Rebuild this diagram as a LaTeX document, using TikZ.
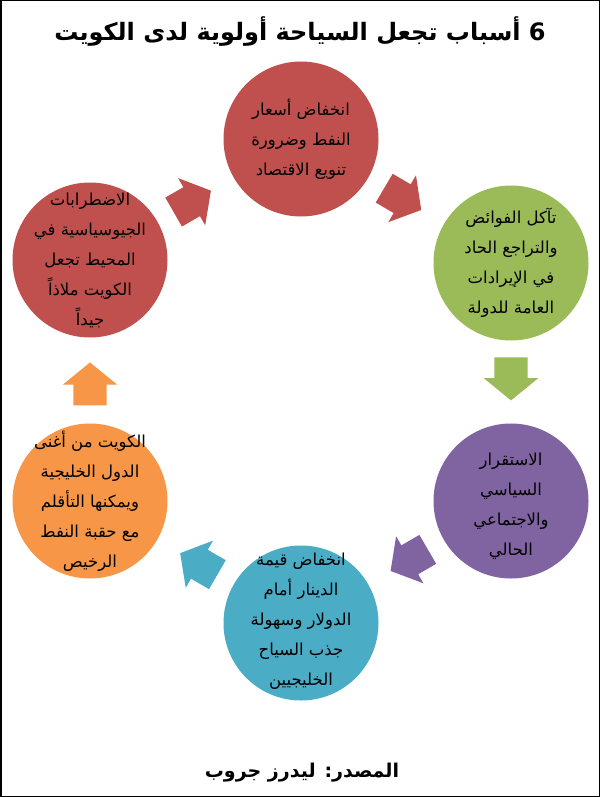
\documentclass[tikz,border=0pt]{standalone}
\usepackage{fontspec}
\usetikzlibrary{shapes.arrows}
\TeXXeTstate=1
\newfontfamily\arabicfont[Script=Arabic]{DejaVu Sans}
\newcommand{\rl}[1]{\beginR #1\endR}
\newcommand{\shaftbox}{\rule{0pt}{33pt}}
\definecolor{cred}{HTML}{C0504D}
\definecolor{cgreen}{HTML}{9BBB59}
\definecolor{cpurple}{HTML}{8064A2}
\definecolor{cteal}{HTML}{4BACC6}
\definecolor{corange}{HTML}{F79646}
\begin{document}
\begin{tikzpicture}[x=1pt,y=-1pt,
  bubble/.style={circle, minimum size=155pt, inner sep=0pt, draw=none},
  btext/.style={font=\arabicfont\fontsize{16.5}{30}\selectfont, align=center, text=black, inner sep=0pt},
  barrow/.style={single arrow, minimum height=43pt, pos=0.38,
    single arrow head extend=10.5pt, single arrow tip angle=101.6,
    inner sep=0pt, sloped, allow upside down, draw=none}]
\useasboundingbox (0,0) rectangle (600,797);
\fill[white] (0,0) rectangle (600,797);
\draw[line width=1.5pt] (0.75,0.75) rectangle (599.25,796.25);

\node[font=\arabicfont\bfseries\fontsize{24}{30}\selectfont] (title) at (300,32)
  {\rl{6 أسباب تجعل السياحة أولوية لدى الكويت}};

\node[bubble, fill=cred]    (top) at (301,139) {};
\node[bubble, fill=cgreen]  (grn) at (511,263) {};
\node[bubble, fill=cpurple] (pur) at (511,501) {};
\node[bubble, fill=cteal]   (tea) at (301,623) {};
\node[bubble, fill=corange] (org) at (90,501) {};
\node[bubble, fill=cred]    (lrd) at (90,260) {};

\node[btext] (topt) at (top) {\rl{انخفاض أسعار}\\\rl{النفط وضرورة}\\\rl{تنويع الاقتصاد}};
\node[btext] (grnt) at (grn) {\rl{تآكل الفوائض}\\\rl{والتراجع الحاد}\\\rl{في الإيرادات}\\\rl{العامة للدولة}};
\node[btext, yshift=-5pt] (purt) at (pur) {\rl{الاستقرار}\\\rl{السياسي}\\\rl{والاجتماعي}\\\rl{الحالي}};
\node[btext, yshift=2pt] (teat) at (tea) {\rl{انخفاض قيمة}\\\rl{الدينار أمام}\\\rl{الدولار وسهولة}\\\rl{جذب السياح}\\\rl{الخليجيين}};
\node[btext] (orgt) at (org) {\rl{الكويت من أغنى}\\\rl{الدول الخليجية}\\\rl{ويمكنها التأقلم}\\\rl{مع حقبة النفط}\\\rl{الرخيص}};
\node[btext] (lrdt) at (lrd) {\rl{الاضطرابات}\\\rl{الجيوسياسية في}\\\rl{المحيط تجعل}\\\rl{الكويت ملاذاً}\\\rl{جيداً}};

\path (lrd) -- node[barrow, fill=cred] (a1) {\shaftbox} (top);
\path (top) -- node[barrow, fill=cred] (a2) {\shaftbox} (grn);
\path (grn) -- node[barrow, fill=cgreen] (a3) {\shaftbox} (pur);
\path (pur) -- node[barrow, fill=cpurple] (a4) {\shaftbox} (tea);
\path (tea) -- node[barrow, fill=cteal] (a5) {\shaftbox} (org);
\path (org) -- node[barrow, fill=corange] (a6) {\shaftbox} (lrd);

\node[font=\arabicfont\bfseries\fontsize{19}{24}\selectfont] (src) at (302,773)
  {\rl{المصدر: ليدرز جروب}};
\end{tikzpicture}
\end{document}
